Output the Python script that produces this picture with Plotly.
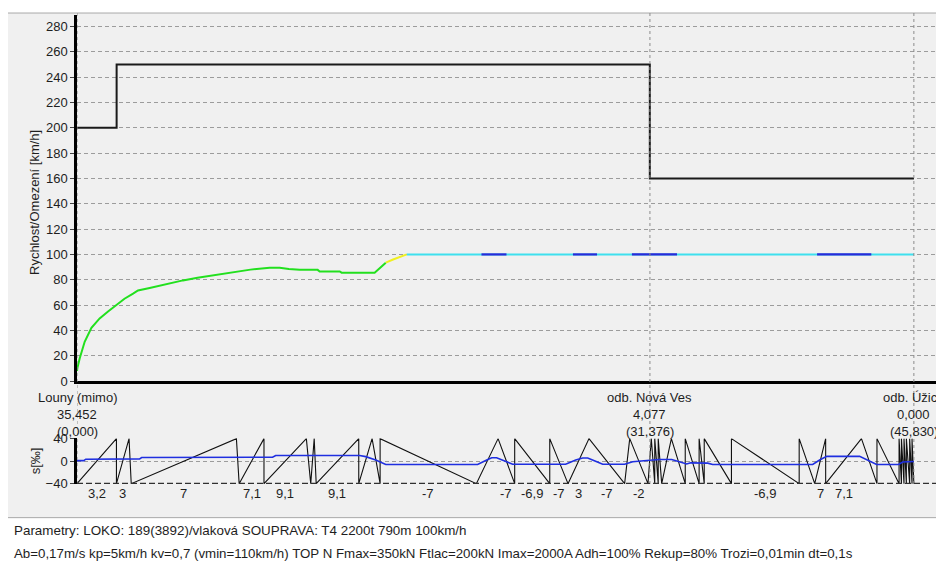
import plotly.graph_objects as go

# ---------------- data ----------------
limit_km = [0.00, 2.17, 31.37, 45.83]
limit_kmh = [200, 250, 160, 160]

green_km = [0.00, 0.03, 0.15, 0.42, 0.79, 1.24, 1.70, 2.16, 2.60, 3.07, 3.34, 3.98, 4.90,
            5.80, 6.60, 7.45, 8.54, 9.50, 10.55, 11.10, 11.60, 12.20, 13.18, 13.29, 14.39,
            14.49, 16.30, 16.91]
green_kmh = [8, 11, 18, 31, 42, 49.5, 55, 60, 65, 69, 71.5, 73.5, 76.5,
             79.5, 81.5, 83.5, 86, 88, 89.5, 89.5, 88.5, 87.8, 87.8, 86.5, 86.5,
             85.6, 85.6, 93.5]
yellow_km = [16.91, 17.31, 18.06]
yellow_kmh = [93.5, 96, 100]
cruise_km = [18.06, 45.83]
cruise_kmh = [100, 100]
hold_start_km = [22.15, 27.16, 30.39, 40.53]
hold_end_km = [23.52, 28.48, 32.86, 43.50]
hold_kmh = 100

station_km = [0.0, 31.376, 45.830]
station_names = ["Louny (mimo)", "odb. Nová Ves", "odb. Úžice"]
station_pos = ["35,452", "4,077", "0,000"]
station_cum = ["(0,000)", "(31,376)", "(45,830)"]

grad_bounds_km = [0.00, 2.16, 2.85, 2.97, 8.73, 8.88, 10.24, 12.56, 12.80, 12.99, 13.10,
                  15.43, 16.16, 16.60, 21.87, 23.06, 23.97, 25.89, 26.89, 28.04, 29.99,
                  30.27, 31.27, 31.45, 31.64, 31.83, 32.02, 32.55, 33.31, 34.07, 34.35,
                  35.84, 39.55, 40.40, 41.00, 42.96, 43.81, 45.02, 45.15, 45.29, 45.42,
                  45.60, 45.73, 45.83]
grad_vals = [3.2, 3, -1, 7, -1, 7.1, 9.1, -2, 2, -1, 9.1, 5, -3, -7, 7, -7, -6.9, -7, 3,
             -7, 2, -2, 1, -1, -1, -1, 2, -2, -3, -2, -3, -6.9, -7, 7, 7.1, -7, -7,
             -1, -1, -1, -1, -1, -1]
grad_labels = ["3,2", "3", "", "7", "", "7,1", "9,1", "", "", "", "9,1", "", "", "-7", "",
               "-7", "-6,9", "-7", "3", "-7", "", "-2", "", "", "", "", "", "", "", "", "",
               "-6,9", "", "7", "7,1", "", "", "", "", "", "", "", ""]

profile_km = [0.00, 0.37, 0.48, 3.43, 3.54, 10.71, 10.88, 15.48, 15.81, 16.36, 16.91,
              21.94, 22.44, 22.71, 22.98, 23.31, 23.86, 26.76, 27.31, 27.69, 27.97,
              28.40, 28.79, 29.99, 30.43, 31.36, 31.91, 32.57, 33.12, 33.39, 33.61,
              34.54, 34.81, 40.29, 40.67, 41.06, 42.86, 43.30, 43.79, 44.99, 45.22, 45.83]
profile_val = [1, 1, 3.5, 4, 6.5, 7, 10, 10, 8, 2, -6,
               -6, 2, 6, 6, 2, -5.5, -5.5, 2, 5.5, 5.5,
               0, -5.5, -5.5, -1, 1.5, 3, 3, -3, -5, -3,
               -3.5, -6, -6, 2, 8.5, 8.5, 2, -6, -6, -1.5, -0.5]

speed_ticks = list(range(0, 281, 20))
grad_ticks = [-40, 0, 40]

params_line1 = "Parametry: LOKO: 189(3892)/vlaková SOUPRAVA: T4 2200t 790m 100km/h"
params_line2 = ("Ab=0,17m/s kp=5km/h kv=0,7 (vmin=110km/h) TOP N Fmax=350kN Ftlac=200kN "
                "Imax=2000A Adh=100% Rekup=80% Trozi=0,01min dt=0,1s")

# ---------------- layout helpers ----------------
# the page body adds an 8px offset, so the figure is 8px smaller and shifted
OFF = 8
W, H = 944 - OFF, 562 - OFF
ML, MR, MT, MB = 77 - OFF, 0, 10 - OFF, 562 - 484
PW = W - ML - MR
PH = H - MT - MB


def px_x(p):
    """reference-image pixel x -> paper fraction"""
    return (p - OFF - ML) / PW


def px_y(p):
    """reference-image pixel y -> paper fraction"""
    return (H - MB - (p - OFF)) / PH


FONT = "Liberation Sans, Arial, sans-serif"
TXT = "#1e1e1e"

fig = go.Figure()

# speed limit
fig.add_trace(go.Scatter(x=limit_km, y=limit_kmh, mode="lines", line_shape="hv",
                         line=dict(color="#1a1a1a", width=2), xaxis="x", yaxis="y"))
# speed curve
fig.add_trace(go.Scatter(x=green_km, y=green_kmh, mode="lines",
                         line=dict(color="#22e01e", width=2), xaxis="x", yaxis="y"))
fig.add_trace(go.Scatter(x=yellow_km, y=yellow_kmh, mode="lines",
                         line=dict(color="#f0f020", width=2), xaxis="x", yaxis="y"))
fig.add_trace(go.Scatter(x=cruise_km, y=cruise_kmh, mode="lines",
                         line=dict(color="#3ee0ee", width=2), xaxis="x", yaxis="y"))
hx, hy = [], []
for a, b in zip(hold_start_km, hold_end_km):
    hx += [a, b, None]
    hy += [hold_kmh, hold_kmh, None]
fig.add_trace(go.Scatter(x=hx, y=hy, mode="lines",
                         line=dict(color="#2a2ad8", width=2.2), xaxis="x", yaxis="y"))

# gradient sawtooth
sx, sy = [], []
for i, g in enumerate(grad_vals):
    a, b = grad_bounds_km[i], grad_bounds_km[i + 1]
    sx += [a, b]
    sy += [-40, 40] if g >= 0 else [40, -40]
fig.add_trace(go.Scatter(x=sx, y=sy, mode="lines",
                         line=dict(color="#111111", width=1.1), xaxis="x", yaxis="y2"))
# profile
fig.add_trace(go.Scatter(x=profile_km, y=profile_val, mode="lines",
                         line=dict(color="#1f2fe0", width=1.6), xaxis="x", yaxis="y2"))

shapes = []
# panel background
shapes.append(dict(type="rect", xref="paper", yref="paper",
                   x0=px_x(7), x1=px_x(960), y0=px_y(518), y1=px_y(8),
                   fillcolor="#f0f0f0", line=dict(color="#a8a8a8", width=1), layer="below"))
# station vertical dotted lines
for s in station_km:
    shapes.append(dict(type="line", xref="x", yref="paper", x0=s, x1=s,
                       y0=px_y(484), y1=px_y(8),
                       line=dict(color="#8c8c8c", width=1, dash="dot"), layer="above"))
# bottom baseline of gradient panel
shapes.append(dict(type="line", xref="paper", yref="y2", x0=0, x1=1, y0=-40, y1=-40,
                   line=dict(color="#303030", width=2, dash="6px,3px"), layer="above"))

ann = []
for s, n, p, c in zip(station_km, station_names, station_pos, station_cum):
    for txt, py in ((n, 397), (p, 414), (c, 431)):
        ann.append(dict(x=s, xref="x", y=px_y(py), yref="paper", text=txt, showarrow=False,
                        xanchor="center", yanchor="middle",
                        font=dict(family=FONT, size=13, color=TXT)))
for i, lab in enumerate(grad_labels):
    if lab:
        mid = (grad_bounds_km[i] + grad_bounds_km[i + 1]) / 2
        ann.append(dict(x=mid, xref="x", y=px_y(494), yref="paper", text=lab,
                        showarrow=False, xanchor="center", yanchor="middle",
                        font=dict(family=FONT, size=13, color=TXT)))
ann.append(dict(x=px_x(35), xref="paper", y=px_y(200), yref="paper",
                text="Rychlost/Omezení [km/h]", textangle=-90, showarrow=False,
                xanchor="center", yanchor="middle", font=dict(family=FONT, size=13, color=TXT)))
ann.append(dict(x=px_x(35), xref="paper", y=px_y(461), yref="paper",
                text="s[‰]", textangle=-90, showarrow=False,
                xanchor="center", yanchor="middle", font=dict(family=FONT, size=13, color=TXT)))
ann.append(dict(x=px_x(12), xref="paper", y=px_y(531), yref="paper", text=params_line1,
                showarrow=False, xanchor="left", yanchor="middle",
                font=dict(family=FONT, size=13.4, color=TXT)))
ann.append(dict(x=px_x(12), xref="paper", y=px_y(554), yref="paper", text=params_line2,
                showarrow=False, xanchor="left", yanchor="middle",
                font=dict(family=FONT, size=13.3, color=TXT)))

x_max = PW / 18.26

fig.update_layout(
    width=W, height=H,
    margin=dict(l=ML, r=MR, t=MT, b=MB, pad=0),
    paper_bgcolor="#ffffff",
    plot_bgcolor="rgba(0,0,0,0)",
    showlegend=False,
    shapes=shapes,
    annotations=ann,
    xaxis=dict(range=[0, x_max], domain=[0, 1], anchor="y", showgrid=False, zeroline=False,
               showticklabels=False, ticks="", showline=True, linecolor="#000000",
               linewidth=2.5, fixedrange=True),
    yaxis=dict(range=[0, 289], domain=[px_y(380), 1], anchor="x", tickvals=speed_ticks,
               showgrid=True, gridcolor="#9c9c9c", gridwidth=1, griddash="4px,3px",
               zeroline=False, showline=True, linecolor="#000000", linewidth=2.5,
               ticks="outside", ticklen=4, tickcolor="#444444",
               tickfont=dict(family=FONT, size=13, color=TXT)),
    yaxis2=dict(range=[-40.6, 40.6], domain=[0, px_y(437.8)], anchor="x", tickvals=grad_ticks,
                showgrid=True, gridcolor="#9c9c9c", gridwidth=1, griddash="4px,3px",
                zeroline=False, showline=True, linecolor="#000000", linewidth=2.5,
                ticks="outside", ticklen=4, tickcolor="#444444",
                tickfont=dict(family=FONT, size=13, color=TXT)),
)

fig.write_html("out.html")
